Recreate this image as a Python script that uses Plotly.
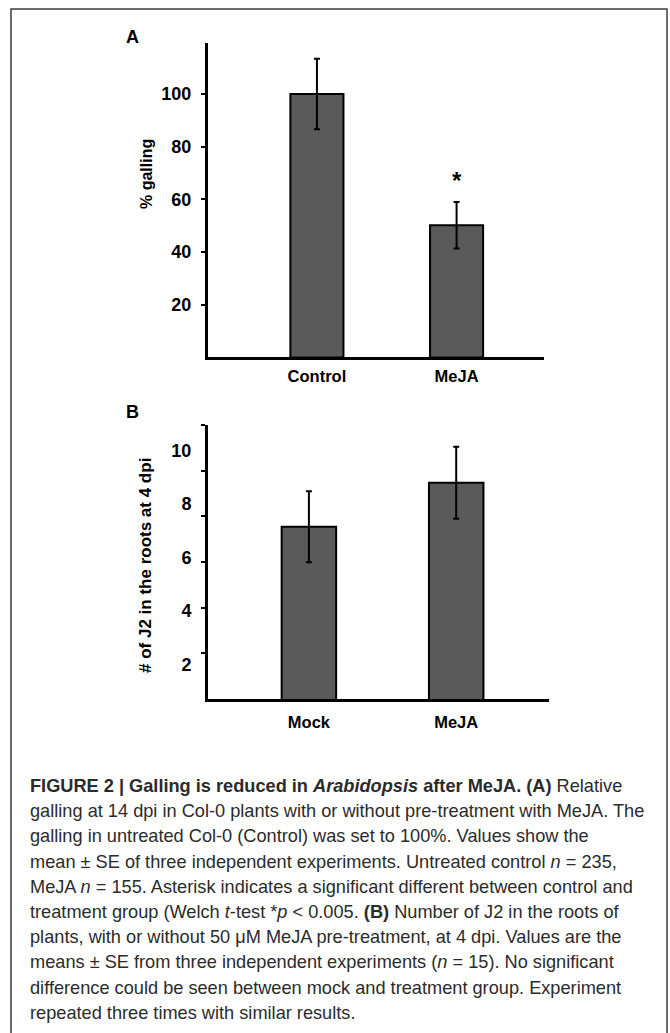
import plotly.graph_objects as go

W, H = 670, 1033

# ---------------- data ----------------
A_CATEGORIES = ["Control", "MeJA"]
A_VALUES = [100.0, 50.2]
A_ERRORS = [13.4, 8.8]
A_TICKS = [20, 40, 60, 80, 100]

B_CATEGORIES = ["Mock", "MeJA"]
B_VALUES = [7.15, 8.8]
B_ERRORS = [1.33, 1.35]
B_TICK_LABELS = [2, 4, 6, 8, 10]
B_TICK_MARKS = [2.42, 4.12, 5.83, 7.54, 9.25, 10.96]

CAPTION_LINES = [
    "<b>FIGURE 2 | Galling is reduced in <i>Arabidopsis</i> after MeJA. (A)</b> Relative",
    "galling at 14 dpi in Col-0 plants with or without pre-treatment with MeJA. The",
    "galling in untreated Col-0 (Control) was set to 100%. Values show the",
    "mean ± SE of three independent experiments. Untreated control <i>n</i> = 235,",
    "MeJA <i>n</i> = 155. Asterisk indicates a significant different between control and",
    "treatment group (Welch <i>t</i>-test *<i>p</i> &lt; 0.005. <b>(B)</b> Number of J2 in the roots of",
    "plants, with or without 50 μM MeJA pre-treatment, at 4 dpi. Values are the",
    "means ± SE from three independent experiments (<i>n</i> = 15). No significant",
    "difference could be seen between mock and treatment group. Experiment",
    "repeated three times with similar results.",
]

# ---------------- helpers ----------------
def px_x(p):
    return p / W

def px_y(p):
    return 1 - p / H

FONT = "Liberation Sans, Arial, Helvetica, sans-serif"
NARROW = "Liberation Sans Narrow, Arial Narrow, Liberation Sans, Arial, sans-serif"
BAR_COLOR = "#5a5a5a"
num_tick = dict(family=NARROW, size=18, color="black", weight="bold")
cat_tick = dict(family=FONT, size=16.5, color="black", weight="bold")

fig = go.Figure()

fig.add_trace(go.Bar(
    x=A_CATEGORIES, y=A_VALUES, xaxis="x", yaxis="y", width=0.38,
    marker=dict(color=BAR_COLOR, line=dict(color="black", width=2)),
    error_y=dict(type="data", array=A_ERRORS, color="black", thickness=2, width=3),
    hoverinfo="skip",
))
fig.add_trace(go.Bar(
    x=B_CATEGORIES, y=B_VALUES, xaxis="x2", yaxis="y2", width=0.37,
    marker=dict(color=BAR_COLOR, line=dict(color="black", width=2)),
    error_y=dict(type="data", array=B_ERRORS, color="black", thickness=2, width=3),
    hoverinfo="skip",
))

axis_common = dict(showline=True, linecolor="black", linewidth=3, showgrid=False,
                   zeroline=False, fixedrange=True)

fig.update_layout(
    width=W, height=H,
    margin=dict(l=0, r=0, t=0, b=0),
    paper_bgcolor="white", plot_bgcolor="rgba(0,0,0,0)",
    showlegend=False,
    xaxis=dict(axis_common, domain=[px_x(208), px_x(544)], range=[-0.78, 1.626],
               anchor="y", ticks="", type="category", tickfont=cat_tick,
               ticklabelstandoff=2),
    yaxis=dict(axis_common, domain=[px_y(357.4), px_y(43)], range=[0, 119.4],
               anchor="x", ticks="outside", ticklen=4, tickwidth=2, tickcolor="black",
               tickmode="array", tickvals=A_TICKS, tickfont=num_tick, ticklabelstandoff=6),
    xaxis2=dict(axis_common, domain=[px_x(208), px_x(549)], range=[-0.685, 1.63],
                anchor="y2", ticks="", type="category", tickfont=cat_tick,
                ticklabelstandoff=6),
    yaxis2=dict(axis_common, domain=[px_y(699), px_y(425)], range=[0.70, 10.96],
                anchor="x2", ticks="", tickmode="array", tickvals=B_TICK_LABELS,
                tickfont=num_tick, ticklabelstandoff=10,
                minor=dict(tickmode="array", tickvals=B_TICK_MARKS, ticks="outside",
                           ticklen=4, tickwidth=2, tickcolor="black", showgrid=False)),
)

def label(text, xp, yp, size, angle=0):
    return dict(text=text, x=px_x(xp), y=px_y(yp), xref="paper", yref="paper",
                xanchor="center", yanchor="middle", textangle=angle, showarrow=False,
                font=dict(family=FONT, size=size, color="black"))

ann = [
    label("<b>A</b>", 132, 37, 18),
    label("<b>B</b>", 132, 412, 18),
    label("<b>% galling</b>", 146, 174, 16, -90),
    label("<b># of J2 in the roots at 4 dpi</b>", 145, 566, 17, -90),
]
# significance asterisk
ann.append(dict(text="<b>*</b>", x=A_CATEGORIES[1], y=A_VALUES[1] + A_ERRORS[1] + 8,
                xref="x", yref="y", showarrow=False, xanchor="center", yanchor="middle",
                font=dict(family=FONT, size=24, color="black")))
# caption
for i, line in enumerate(CAPTION_LINES):
    ann.append(dict(text=line, x=px_x(28), y=px_y(786 + i * 25.2), xref="paper", yref="paper",
                    xanchor="left", yanchor="middle", showarrow=False, align="left",
                    font=dict(family=FONT, size=18.2, color="#2b2b2b")))
fig.update_layout(annotations=ann)

# outer frame (open at the bottom)
fig.add_shape(type="path", xref="paper", yref="paper",
              path=f"M {px_x(11)} {px_y(H + 5)} L {px_x(11)} {px_y(9)} L {px_x(667)} {px_y(9)} L {px_x(667)} {px_y(H + 5)}",
              line=dict(color="#3c3c3c", width=1.5))

fig.write_html("out.html")
